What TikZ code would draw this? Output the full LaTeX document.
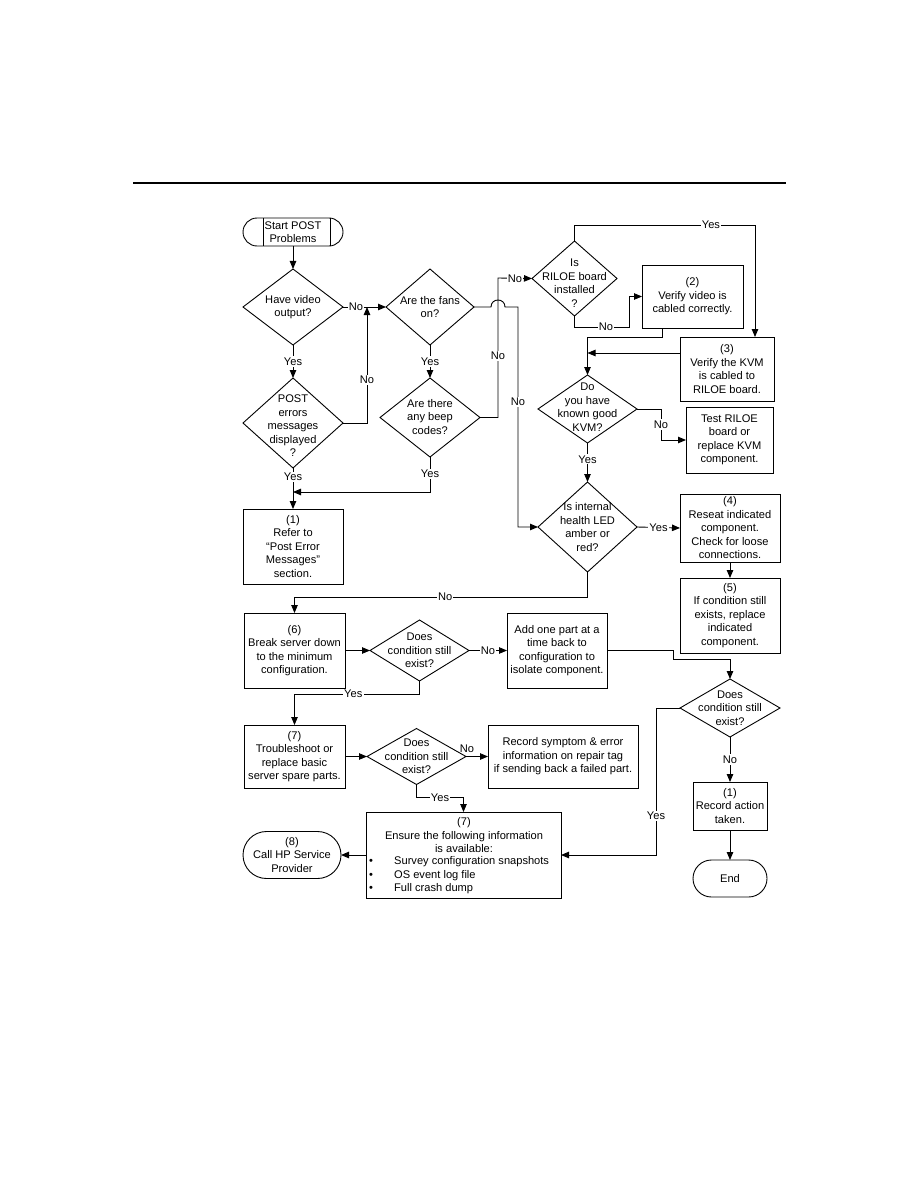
\documentclass[tikz,border=0pt]{standalone}
\usepackage{fontspec}
\setmainfont{Liberation Sans}
\usetikzlibrary{shapes.geometric,arrows.meta,calc}
\newcommand\fsz{\fontsize{11.1pt}{13.5pt}\selectfont}
\begin{document}
\begin{tikzpicture}[x=1pt,y=-1pt,
  lw/.style={line width=0.9pt},
  arr/.style={draw, line width=0.9pt, -{Triangle[length=8pt,width=6.5pt]}},
  box/.style={draw, line width=0.9pt, rectangle, inner sep=0pt, outer sep=0pt, align=center, font=\fsz},
  dia/.style={draw, diamond, line width=0.9pt, inner sep=0pt, outer sep=0pt},
  txt/.style={align=center, inner sep=0pt, font=\fsz},
  lbl/.style={fill=white, inner sep=1.2pt, font=\fsz}]
\useasboundingbox[fill=white] (0,0) rectangle (918,1188);
% top rule
\draw[line width=2.5pt] (133,183) -- (786,183);

% ---- nodes ----
\node[box, rounded corners=14pt, minimum width=100pt, minimum height=28pt] (start) at (293,232) {Start POST\\Problems};
\draw[lw] (263,218) -- (263,246);
\draw[lw] (330,218) -- (330,246);

\node[dia, minimum width=100pt, minimum height=76pt] (have) at (293,307) {};
\node[txt] (thave) at (have) {Have video\\output?};

\node[dia, minimum width=100pt, minimum height=90pt] (post) at (293,423) {};
\node[txt] (tpost) at (293,426) {POST\\errors\\messages\\displayed\\?};

\node[dia, minimum width=88pt, minimum height=76pt] (fans) at (430,307) {};
\node[txt] (tfans) at (fans) {Are the fans\\on?};

\node[dia, minimum width=100pt, minimum height=79pt] (beep) at (430,417.5) {};
\node[txt] (tbeep) at (430,417) {Are there\\any beep\\codes?};

\node[dia, minimum width=85pt, minimum height=75pt] (riloe) at (574.5,278.5) {};
\node[txt] (triloe) at (574.5,283) {Is\\RILOE board\\installed\\?};

\node[box, minimum width=101pt, minimum height=63pt] (box2) at (692.5,296.5) {(2)\\Verify video is\\cabled correctly.};
\node[box, minimum width=94pt, minimum height=64pt] (box3) at (727,369) {(3)\\Verify the KVM\\is cabled to\\RILOE board.};

\node[dia, minimum width=99pt, minimum height=68pt] (kvm) at (587.5,409) {};
\node[txt] (tkvm) at (587.5,407) {Do\\you have\\known good\\KVM?};

\node[box, minimum width=87pt, minimum height=66pt] (test) at (729.5,440) {Test RILOE\\board or\\replace KVM\\component.};

\node[dia, minimum width=99pt, minimum height=90pt] (health) at (587.5,527) {};
\node[txt] (thealth) at (health) {Is internal\\health LED\\amber or\\red?};

\node[box, minimum width=100pt, minimum height=68pt] (box4) at (730,528) {(4)\\Reseat indicated\\component.\\Check for loose\\connections.};
\node[box, minimum width=100pt, minimum height=75pt] (box5) at (730,615.5) {(5)\\If condition still\\exists, replace\\indicated\\component.};

\node[box, minimum width=100pt, minimum height=75pt] (box1) at (293,546.5) {(1)\\Refer to\\“Post Error\\Messages”\\section.};

\node[box, minimum width=101pt, minimum height=75pt] (box6) at (294.5,650.5) {(6)\\Break server down\\to the minimum\\configuration.};
\node[dia, minimum width=99pt, minimum height=61pt] (does1) at (419.5,650.5) {};
\node[txt] (tdoes1) at (does1) {Does\\condition still\\exist?};
\node[box, minimum width=100pt, minimum height=75pt] (add) at (557,650.5) {Add one part at a\\time back to\\configuration to\\isolate component.};

\node[box, minimum width=101pt, minimum height=63pt] (box7a) at (294.5,756.5) {(7)\\Troubleshoot or\\replace basic\\server spare parts.};
\node[dia, minimum width=99pt, minimum height=56pt] (does2) at (416.5,756.5) {};
\node[txt] (tdoes2) at (does2) {Does\\condition still\\exist?};
\node[box, minimum width=150pt, minimum height=63pt] (record) at (563,756.5) {Record symptom \& error\\information on repair tag\\if sending back a failed part.};

\node[box, minimum width=195pt, minimum height=86pt] (box7b) at (463.5,855) {};
\node[txt] (t7b1) at (464,835.5) {(7)\\Ensure the following information\\is available:};
\node[txt, align=left, anchor=west] (t7b2) at (369,875.5) {\makebox[25pt][l]{\textbullet}Survey configuration snapshots\\\makebox[25pt][l]{\textbullet}OS event log file\\\makebox[25pt][l]{\textbullet}Full crash dump};

\node[box, rounded corners=23.5pt, minimum width=98pt, minimum height=47pt] (term8) at (292,855) {(8)\\Call HP Service\\Provider};

\node[dia, minimum width=100pt, minimum height=58pt] (does3) at (730,708) {};
\node[txt] (tdoes3) at (does3) {Does\\condition still\\exist?};
\node[box, minimum width=74pt, minimum height=48pt] (box1b) at (730,806) {(1)\\Record action\\taken.};
\node[box, rounded corners=18.5pt, minimum width=74pt, minimum height=37pt] (endt) at (730,878.5) {End};

% ---- helper coordinates ----
\coordinate (j1) at (367,307);
\coordinate (j2) at (498,278);
\coordinate (h1) at (491,307);
\coordinate (h1b) at (505,307);
\coordinate (h2) at (518,307);
\coordinate (j3) at (755,225);
\coordinate (j4) at (629,327);
\coordinate (b2o) at (662,328);
\coordinate (b3o) at (680,353);
\coordinate (j9) at (673,659);
\coordinate (j11) at (293,492);

% ---- connectors ----
\draw[arr] (start) -- (have);
\draw[arr] (have.east) -- node[lbl,pos=0.3]{No} (fans.west);
\draw[arr] (have.south) -- node[lbl]{Yes} (post.north);
\draw[arr] (post.east) -| node[lbl,pos=0.685]{No} (j1);
\draw[arr] (fans.south) -- node[lbl]{Yes} (beep.north);
\draw[arr] (beep.east) -| node[lbl,pos=0.72]{No} (j2) -- node[lbl]{No} (riloe.west);
\draw[arr] (fans.east) -- (h1) .. controls (491,297.7) and (505,297.7) .. (h1b) -- (h2) |- node[lbl,pos=0.216]{No} (health.west);
\draw[arr] (riloe.north) |- node[lbl,pos=0.878]{Yes} (j3) -- (j3 |- box3.north);
\draw[arr] (riloe.south) |- node[lbl,pos=0.789]{No} (j4) |- (box2.west);
\draw[arr] (b2o) -- ++(0,9) -| (kvm.north);
\draw[arr] (b3o) -- (b3o -| kvm.north);
\draw[arr] (kvm.east) -| node[lbl,pos=0.75]{No} ($(test.west)+(-25,0)$) -- (test.west);
\draw[arr] (kvm.south) -- node[lbl,pos=0.42]{Yes} (health.north);
\draw[arr] (health.east) -- node[lbl]{Yes} (box4.west);
\draw[arr] (box4) -- (box5);
\draw[arr] (health.south) -- ++(0,25) -| node[lbl,pos=0.243]{No} (box6.north);
\draw[arr] (box6) -- (does1);
\draw[arr] (does1) -- node[lbl]{No} (add);
\draw[arr] (add.east) -| (j9) -| (does3.north);
\draw[arr] (does1.south) -- ++(0,13) -| node[lbl,pos=0.265]{Yes} (box7a.north);
\draw[arr] (box7a) -- (does2);
\draw[arr] (does2) -- node[pos=0.04, above, inner sep=1.2pt, yshift=2pt, font=\fsz]{No} (record);
\draw[arr] (does2.south) -- ++(0,13) -| node[lbl,pos=0.25]{Yes} (box7b.north);
\draw[arr] (box7b) -- (term8);
\draw[arr] (does3.west) -- ++(-24,0) |- node[lbl,pos=0.367]{Yes} (box7b.east);
\draw[arr] (does3) -- node[lbl]{No} (box1b);
\draw[arr] (box1b) -- (endt);
\draw[arr] (post.south) -- node[lbl,pos=0.22]{Yes} (box1.north);
\draw[arr] (beep.south) |- node[lbl,pos=0.24]{Yes} (j11);
\end{tikzpicture}
\end{document}
